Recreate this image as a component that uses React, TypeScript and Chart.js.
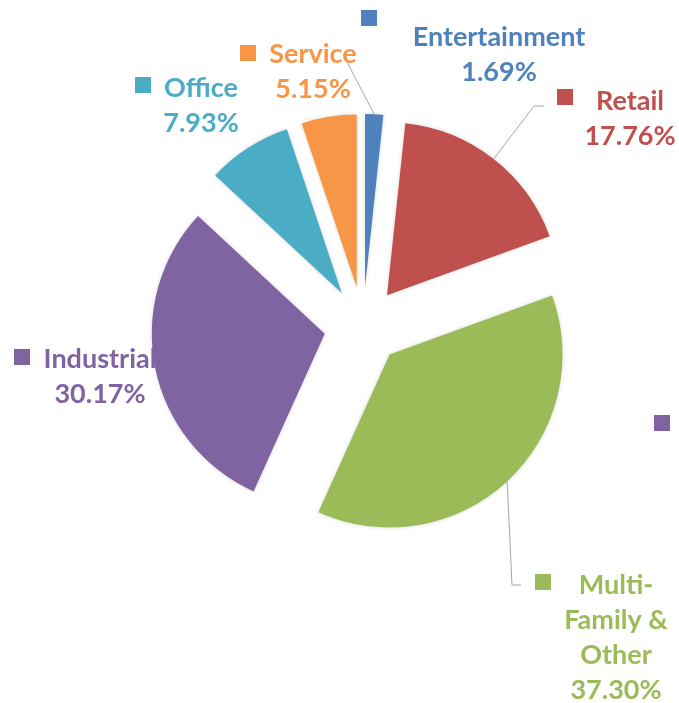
import React, { useEffect, useRef } from "react";
import { Chart, registerables } from "chart.js";

Chart.register(...registerables);

const categories = ["Entertainment", "Retail", "Multi-Family & Other", "Industrial", "Office", "Service"];
const shares = [1.69, 17.76, 37.3, 30.17, 7.93, 5.15];
const labelLines = [["Entertainment"], ["Retail"], ["Multi-", "Family &", "Other"], ["Industrial"], ["Office"], ["Service"]];

const colors = ["#4F81BD", "#C0504D", "#9BBB59", "#8064A2", "#4BACC6", "#F79646"];

// label layout (canvas px): text centre x, first baseline y, key square x/y
const labelLayout = [
  { cx: 499, by: 46, sx: 361, sy: 10, leader: [[347, 62]] },
  { cx: 630, by: 110, sx: 557, sy: 89, leader: [[534, 106], [544, 106]] },
  { cx: 616, by: 594, sx: 535, sy: 574, leader: [[512, 585], [521, 585]] },
  { cx: 100, by: 368, sx: 14, sy: 349, leader: null },
  { cx: 201, by: 97, sx: 135, sy: 77, leader: null },
  { cx: 313, by: 63, sx: 240, sy: 45, leader: null },
];
const strayKey = { sx: 654, sy: 415, color: 3 };

const FONT = "bold 27px Lato";
const LINE_H = 35;
const KEY = 16;
const RADIUS = 173;
const EXPLODE_PX = 39; // every slice pulled out from the centre by this distance

const labelPlugin = {
  id: "excelLabels",
  afterDatasetsUpdate(chart: any) {
    const meta = chart.getDatasetMeta(0);
    meta.data.forEach((arc: any) => {
      const mid = (arc.startAngle + arc.endAngle) / 2;
      arc.x = arc.x + Math.cos(mid) * EXPLODE_PX;
      arc.y = arc.y + Math.sin(mid) * EXPLODE_PX;
    });
  },
  beforeDatasetsDraw(chart: any) {
    const ctx = chart.ctx;
    ctx.save();
    ctx.shadowColor = "rgba(0,0,0,0.15)";
    ctx.shadowBlur = 4;
  },
  afterDatasetsDraw(chart: any) {
    chart.ctx.restore();
  },
  afterDraw(chart: any) {
    const ctx = chart.ctx;
    const meta = chart.getDatasetMeta(0);
    ctx.save();
    meta.data.forEach((arc: any, i: number) => {
      const lay = labelLayout[i];
      const mid = (arc.startAngle + arc.endAngle) / 2;
      const ex = arc.x + Math.cos(mid) * arc.outerRadius;
      const ey = arc.y + Math.sin(mid) * arc.outerRadius;
      if (lay.leader) {
        ctx.strokeStyle = "#A6A6A6";
        ctx.lineWidth = 1;
        ctx.beginPath();
        ctx.moveTo(ex, ey);
        lay.leader.forEach((p: number[]) => ctx.lineTo(p[0], p[1]));
        ctx.stroke();
      }
      ctx.fillStyle = colors[i];
      ctx.fillRect(lay.sx, lay.sy, KEY, KEY);
      ctx.font = FONT;
      ctx.textAlign = "center";
      ctx.textBaseline = "alphabetic";
      const lines = [...labelLines[i], shares[i].toFixed(2) + "%"];
      lines.forEach((t, k) => ctx.fillText(t, lay.cx, lay.by + k * LINE_H));
    });
    ctx.fillStyle = colors[strayKey.color];
    ctx.fillRect(strayKey.sx, strayKey.sy, KEY, KEY);
    ctx.restore();
  },
};

export default function App() {
  const ref = useRef<HTMLCanvasElement>(null);
  useEffect(() => {
    if (!ref.current) return;
    const chart = new Chart(ref.current, {
      type: "pie",
      data: {
        labels: categories,
        datasets: [
          {
            data: shares,
            backgroundColor: colors,
            borderWidth: 0,
            offset: 0,
            hoverOffset: 0,
          },
        ],
      },
      options: {
        responsive: false,
        animation: false,
        radius: RADIUS,
        layout: { padding: { left: 47, right: 0, top: 0, bottom: 51 } },
        plugins: { legend: { display: false }, tooltip: { enabled: false } },
        events: [],
      },
      plugins: [labelPlugin],
    });
    return () => chart.destroy();
  }, []);
  return (
    <div style={{ position: "absolute", left: 0, top: 0, width: 679, height: 703, background: "#fff" }}>
      <canvas ref={ref} width={679} height={703} style={{ display: "block" }} />
    </div>
  );
}
